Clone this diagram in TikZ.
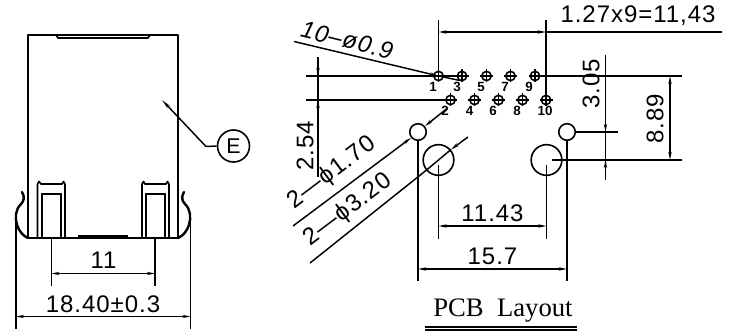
\documentclass[tikz,border=0pt]{standalone}
\usepackage{fontspec}
\setmainfont{Liberation Sans}
\newfontfamily\labelserif{Liberation Serif}
\newfontfamily\dimfont[LetterSpace=4]{Liberation Sans}
\usetikzlibrary{arrows.meta}
\tikzset{
  part/.style={line width=1.2pt,line join=round,line cap=round},
  heavy/.style={line width=1.8pt,line cap=round},
  ext/.style={line width=1.1pt},
  dimline/.style={line width=1.1pt,{Stealth[length=6pt,width=2.4pt]}-{Stealth[length=6pt,width=2.4pt]}},
  leader/.style={line width=1.1pt,-{Stealth[length=6pt,width=2.4pt]}},
  dimtext/.style={font=\dimfont\fontsize{18}{18}\selectfont,inner sep=0pt},
  pinno/.style={font=\fontsize{10}{10}\selectfont\bfseries,inner sep=0pt},
  hole/.style={circle,draw,line width=1.2pt,minimum size=#1,inner sep=0pt},
}
\newcommand{\pinmark}[3]{%
  \node[hole=7pt] (#1) at (#2,#3) {};
  \draw[line width=1pt] (#2-6.5,#3) -- (#2+6.5,#3) (#2,#3-6.5) -- (#2,#3+6.5);
}
\begin{document}
\begin{tikzpicture}[x=0.75pt,y=-0.75pt]
\useasboundingbox (0,0) rectangle (731,334);
% ---- left view: body
\draw[part] (28,238) -- (28,35) -- (178,35) -- (178,238);
\draw[heavy] (28,238) -- (178,238);
\draw[part] (56,35) -- (58,38) -- (148,38) -- (150,35);
% bottom bar
\draw[line width=2pt] (78,236.5) -- (128,236.5);
% latches
\draw[part] (37.5,238) -- (37.5,184) -- (39,181.5) -- (41,184) -- (62,184) -- (63.5,181.5) -- (65,184) -- (65,238);
\draw[part] (42,238) -- (42,194) -- (61,194) -- (61,238);
\draw[heavy] (42,194) -- (61,194);
\draw[part] (142,238) -- (142,184) -- (143.5,181.5) -- (145,184) -- (166,184) -- (167.5,181.5) -- (169,184) -- (169,238);
\draw[part] (146,238) -- (146,194) -- (165,194) -- (165,238);
\draw[heavy] (146,194) -- (165,194);
% shield clips
\draw[heavy] (22,192) .. controls (25,197) and (24,201) .. (21,204) .. controls (15,210) and (15,218) .. (17,225) .. controls (19,231) and (23,236) .. (28,238);
\draw[heavy] (184,192) .. controls (181,197) and (182,201) .. (185,204) .. controls (191,210) and (191,218) .. (189,225) .. controls (187,231) and (183,236) .. (178,238);
% balloon E
\node[circle,draw,line width=1.2pt,minimum size=24pt,inner sep=0pt,font=\fontsize{16}{16}\selectfont] (balloon) at (233.5,146) {E};
\coordinate (balloonTip) at (162,100);
\coordinate (balloonKnee) at (206,146.5);
\draw[line width=1.1pt,{Stealth[length=7pt,width=2.4pt]}-] (balloonTip) -- (balloonKnee) -- (balloon.west);
% dim 11
\coordinate (e11a) at (51.5,238); \coordinate (e11b) at (155,238);
\coordinate (e11c) at (51.5,286); \coordinate (e11d) at (155,286);
\draw[ext] (e11a) -- (e11c) (e11b) -- (e11d);
\draw[dimline] (51.5,273.5) -- (155,273.5);
\node[dimtext] (t11) at (103.5,260) {11};
% dim 18.40
\coordinate (e18a) at (16,218); \coordinate (e18b) at (190.5,218);
\draw[ext] (e18a) -- (16,329) (e18b) -- (190.5,329);
\draw[dimline] (16,316.5) -- (190.5,316.5);
\node[dimtext] (t18) at (103,304) {18.40±0.3};
% ---- PCB layout: extension lines
\coordinate (row1L) at (306,76); \coordinate (row2L) at (306,100);
\coordinate (row1R) at (682,76);
\draw[ext] (row1L) -- (461,76) (535,76) -- (row1R);
\draw[ext] (row2L) -- (451,100);
% pins
\pinmark{p1}{438.5}{76}
\pinmark{p3}{462}{76}
\pinmark{p5}{486.5}{76}
\pinmark{p7}{510.5}{76}
\pinmark{p9}{535}{76}
\pinmark{p2}{450.5}{100}
\pinmark{p4}{474.5}{100}
\pinmark{p6}{498.5}{100}
\pinmark{p8}{522.5}{100}
\pinmark{p10}{546}{100}
\node[pinno] (n1) at (433,86.5) {1};
\node[pinno] (n3) at (457,86.5) {3};
\node[pinno] (n5) at (481,86.5) {5};
\node[pinno] (n7) at (505,86.5) {7};
\node[pinno] (n9) at (529,86.5) {9};
\node[pinno] (n2) at (445,110.5) {2};
\node[pinno] (n4) at (469.5,110.5) {4};
\node[pinno] (n6) at (493,110.5) {6};
\node[pinno] (n8) at (517,110.5) {8};
\node[pinno] (n10) at (545,110.5) {10};
% mounting holes
\node[hole=12.4pt] (hs1) at (418,132) {};
\node[hole=12.4pt] (hs2) at (567,132) {};
\node[hole=23pt] (hl1) at (438.5,160) {};
\node[hole=23pt] (hl2) at (546.5,160) {};
% top dim
\coordinate (topA) at (438.5,20); \coordinate (topB) at (546,20);
\draw[ext] (topA) -- (438.5,76) (topB) -- (546,100);
\draw[dimline] (438.5,32) -- (546,32);
\draw[ext] (546,32) -- (722,32);
\node[dimtext] (tTop) at (638,16) {1.27x9=11,43};
% 10-phi0.9 leader
\coordinate (l10) at (294,41.5);
\draw[leader] (l10) -- (438.5,76);
\draw[ext] (438.5,76) -- (460,80.5);
\node[dimtext,rotate=-14] (t10) at (347,40) {\itshape 10–ø0.9};
% 2.54
\draw[ext] (318,57) -- (318,177);
\draw[line width=1.1pt,-{Stealth[length=6pt,width=2.4pt]}] (318,62) -- (318,76);
\draw[line width=1.1pt,-{Stealth[length=6pt,width=2.4pt]}] (318,114) -- (318,100);
\node[dimtext,rotate=90] (t254) at (305,146) {2.54};
% 2-phi1.70 leader
\coordinate (l17a) at (293,226); \coordinate (l17b) at (447,108.5);
\draw[leader] (l17a) -- (hs1.220);
\draw[leader] (l17b) -- (hs1.40);
\node[dimtext,rotate=37] (t17) at (332,173) {2—ϕ1.70};
% 2-phi3.20 leader
\coordinate (l32a) at (310,263); \coordinate (l32b) at (468,137);
\draw[ext] (l32a) -- (hl1.220);
\draw[leader] (l32b) -- (hl1.40);
\draw[ext] (hl1.220) -- (hl1.40);
\node[dimtext,rotate=37] (t32) at (348,210) {2—ϕ3.20};
% bottom dims
\draw[ext] (hs1.south) -- (418,281.5) (hs2.south) -- (567,281.5);
\draw[dimline] (418,269) -- (567,269);
\node[dimtext] (t157) at (492.5,256) {15.7};
\draw[ext] (438.5,165) -- (438.5,239) (546.5,165) -- (546.5,239);
\draw[dimline] (438.5,226) -- (546.5,226);
\node[dimtext] (t1143) at (492.5,213) {11.43};
% right dims
\draw[ext] (hs2.east) -- (618,132);
\draw[ext] (552,160) -- (682,160);
\draw[ext] (605.5,55) -- (605.5,180);
\draw[line width=1.1pt,-{Stealth[length=6pt,width=2.4pt]}] (605.5,118) -- (605.5,132);
\draw[line width=1.1pt,-{Stealth[length=6pt,width=2.4pt]}] (605.5,174) -- (605.5,160);
\node[dimtext,rotate=90] (t305) at (591,84) {3.05};
\draw[dimline] (670,76) -- (670,160);
\node[dimtext,rotate=90] (t889) at (655,118.5) {8.89};
% title
\node[inner sep=0pt,font=\labelserif\fontsize{20}{20}\selectfont] (title) at (503,311) {PCB\ \ Layout};
\coordinate (ulA) at (425,327); \coordinate (ulB) at (577,327);
\draw[line width=.9pt] (ulA) -- (ulB);
\draw[line width=.9pt] (425,330) -- (577,330);
\end{tikzpicture}
\end{document}
